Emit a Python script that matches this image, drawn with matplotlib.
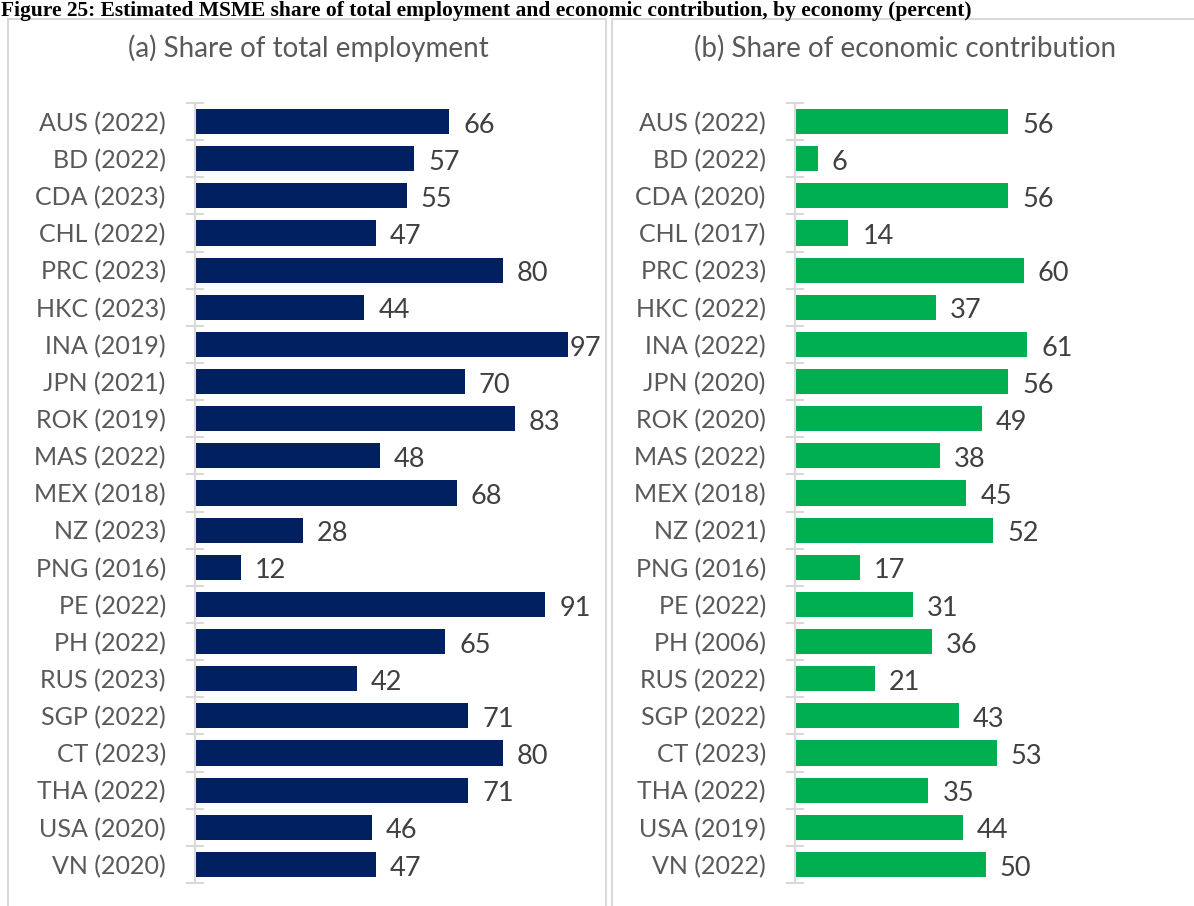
import matplotlib.pyplot as plt
from matplotlib.patches import Rectangle
import numpy as np

plt.rcParams['font.family'] = ['Lato', 'DejaVu Sans']

economies = ['AUS', 'BD', 'CDA', 'CHL', 'PRC', 'HKC', 'INA', 'JPN', 'ROK', 'MAS', 'MEX',
             'NZ', 'PNG', 'PE', 'PH', 'RUS', 'SGP', 'CT', 'THA', 'USA', 'VN']
emp_years = [2022, 2022, 2023, 2022, 2023, 2023, 2019, 2021, 2019, 2022, 2018,
             2023, 2016, 2022, 2022, 2023, 2022, 2023, 2022, 2020, 2020]
emp_share = [66, 57, 55, 47, 80, 44, 97, 70, 83, 48, 68, 28, 12, 91, 65, 42, 71, 80, 71, 46, 47]
con_years = [2022, 2022, 2020, 2017, 2023, 2022, 2022, 2020, 2020, 2022, 2018,
             2021, 2016, 2022, 2006, 2022, 2022, 2023, 2022, 2019, 2022]
con_share = [56, 6, 56, 14, 60, 37, 61, 56, 49, 38, 45, 52, 17, 31, 36, 21, 43, 53, 35, 44, 50]

W, H = 1194, 906
fig = plt.figure(figsize=(W / 100, H / 100), dpi=100)

# panel borders
for x0, x1 in [(8, 606), (612, 1200)]:
    fig.patches.append(Rectangle((x0 / W, -0.02), (x1 - x0) / W, 1 - 19 / H + 0.02,
                                 transform=fig.transFigure, fill=False,
                                 edgecolor='#D9D9D9', linewidth=1.5))

fig.text(1 / W, 1 - 1 / H, 'Figure 25: Estimated MSME share of total employment and economic '
         'contribution, by economy (percent)', fontsize=15.5, fontweight='bold',
         family='Liberation Serif', va='top', ha='left')


def draw_panel(left_px, scale, values, years, color, title, title_x):
    xmax = 105
    width_px = xmax * scale
    ax = fig.add_axes([left_px / W, 1 - 883 / H, width_px / W, 780 / H])
    y = np.arange(len(values))
    ax.barh(y, values, height=0.68, color=color)
    ax.set_xlim(0, xmax)
    ax.set_ylim(len(values) - 0.5, -0.5)
    labels = ['%s (%d)' % (e, yr) for e, yr in zip(economies, years)]
    ax.set_yticks(y)
    ax.set_yticklabels(labels, fontsize=18, color='#595959')
    ax.tick_params(axis='y', which='major', length=0, pad=21)
    ax.set_yticks(np.arange(len(values) + 1) - 0.5, minor=True)
    ax.tick_params(axis='y', which='minor', direction='inout', length=13,
                   color='#D9D9D9', width=1.5)
    ax.set_xticks([])
    for s in ['top', 'right', 'bottom']:
        ax.spines[s].set_visible(False)
    ax.spines['left'].set_color('#D9D9D9')
    ax.spines['left'].set_linewidth(1.5)
    gap = 14 / scale
    lab_w = 30 / scale
    for yi, v in zip(y, values):
        xl = min(v + gap, xmax - lab_w)
        xl = max(xl, v + 1 / scale)
        ax.text(xl, yi + 0.1, str(v), fontsize=19.5, color='#404040',
                va='center', ha='left', clip_on=False)
    fig.text(title_x / W, 1 - 48 / H, title, fontsize=20, color='#595959',
             ha='center', va='center')


draw_panel(195, 3.85, emp_share, emp_years, '#002060', '(a) Share of total employment', 308)
draw_panel(795, 3.81, con_share, con_years, '#00B050', '(b) Share of economic contribution', 905)

fig.savefig('out.png', dpi=100)
